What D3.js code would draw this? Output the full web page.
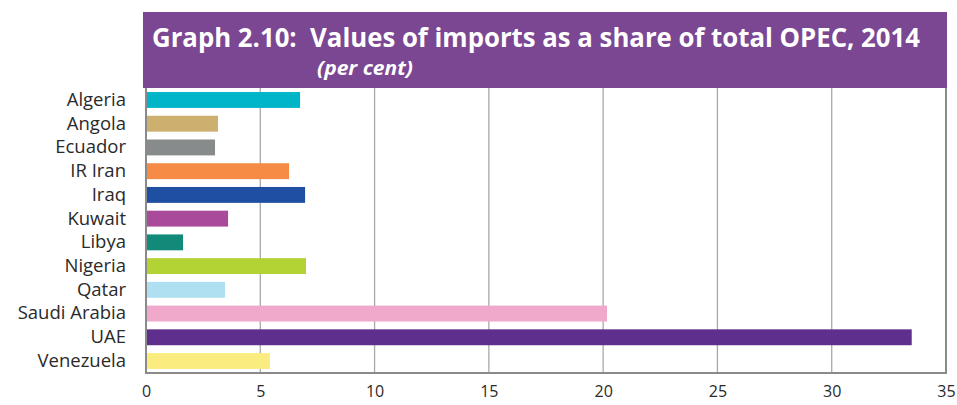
<!DOCTYPE html>
<html>
<head>
<meta charset="utf-8">
<script src="https://cdn.jsdelivr.net/npm/d3@7"></script>
<style>
  body { margin: 0; background: #fff; }
  svg { display: block; font-family: "Open Sans", "Noto Sans", sans-serif; }
</style>
</head>
<body>
<div id="chart"></div>
<script>
// data
var countries = ["Algeria", "Angola", "Ecuador", "IR Iran", "Iraq", "Kuwait", "Libya",
                 "Nigeria", "Qatar", "Saudi Arabia", "UAE", "Venezuela"];
var shares = [6.74, 3.15, 3.02, 6.26, 6.96, 3.59, 1.62, 7.0, 3.46, 20.17, 33.5, 5.42];
var barColors = ["#00b5c8", "#cdb06f", "#878b8b", "#f68b45", "#1f4fa0", "#a94a9a",
                 "#128a7a", "#b3d234", "#aee0f2", "#f0a8cb", "#5f2f8e", "#fbec7f"];
var xTicks = [0, 5, 10, 15, 20, 25, 30, 35];
var title = "Graph 2.10:  Values of imports as a share of total OPEC, 2014";
var subtitle = "(per cent)";

var W = 957, H = 405;
var margin = { top: 88, right: 11, bottom: 32, left: 146 };
var width = W - margin.left - margin.right,
    height = H - margin.top - margin.bottom;

var entry = countries.map((c, i) => ({ name: c, value: shares[i], color: barColors[i] }));

var svg = d3.select("#chart").append("svg")
    .attr("width", W)
    .attr("height", H);

// title box
svg.append("rect")
    .attr("x", 143).attr("y", 12)
    .attr("width", 804).attr("height", margin.top - 12)
    .attr("fill", "#7b4692");

svg.append("text")
    .attr("x", 152).attr("y", 47)
    .attr("fill", "#fff")
    .attr("font-weight", "bold")
    .attr("font-size", 27)
    .attr("textLength", 768)
    .attr("lengthAdjust", "spacingAndGlyphs")
    .style("white-space", "pre")
    .text(title);

svg.append("text")
    .attr("x", 317).attr("y", 75)
    .attr("fill", "#fff")
    .attr("font-weight", "bold")
    .attr("font-style", "italic")
    .attr("font-size", 20)
    .attr("textLength", 96)
    .attr("lengthAdjust", "spacingAndGlyphs")
    .text(subtitle);

var g = svg.append("g")
    .attr("transform", `translate(${margin.left},${margin.top})`);

var x = d3.scaleLinear()
    .domain([0, 35])
    .range([0, width]);

var y = d3.scaleBand()
    .domain(countries)
    .range([0, height])
    .paddingInner(0.33)
    .paddingOuter(0.17);

// grid
g.selectAll(".grid")
    .data(xTicks.slice(1))
    .join("line")
    .attr("x1", d => x(d)).attr("x2", d => x(d))
    .attr("y1", 0).attr("y2", height)
    .attr("stroke", "#a8a8a8")
    .attr("stroke-width", 1.3);

// bars
g.selectAll(".bar")
    .data(entry)
    .join("rect")
    .attr("x", x(0) + 1)
    .attr("y", d => y(d.name))
    .attr("width", d => x(d.value) - x(0) - 1)
    .attr("height", y.bandwidth())
    .attr("fill", d => d.color);

// frame: left, bottom, right
g.append("path")
    .attr("d", `M0,0V${height}H${width}V0`)
    .attr("fill", "none")
    .attr("stroke", "#8a8a8a")
    .attr("stroke-width", 2);

// x axis
var xAxis = g.append("g")
    .attr("transform", `translate(0,${height})`)
    .call(d3.axisBottom(x).tickValues(xTicks).tickSize(0).tickPadding(13))
    .attr("font-family", "'Open Sans', sans-serif");
xAxis.select(".domain").remove();
xAxis.selectAll("text")
    .attr("font-size", 16)
    .attr("fill", "#2a2a2a");

// y axis labels
var yAxis = g.append("g")
    .call(d3.axisLeft(y).tickSize(0).tickPadding(20))
    .attr("font-family", "'Open Sans', sans-serif");
yAxis.select(".domain").remove();
yAxis.selectAll("text")
    .attr("font-size", 18.5)
    .attr("fill", "#2a2a2a");
</script>
</body>
</html>
